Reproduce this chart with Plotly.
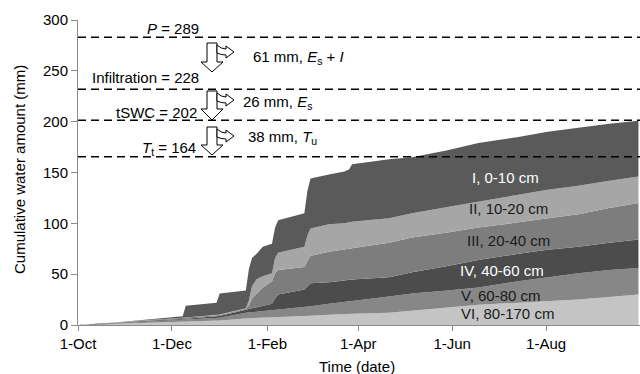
import numpy as np
import plotly.graph_objects as go

# ---- data (days after 1-Oct-2010, cumulative tops of each layer, mm) ----
days = [0, 15, 31, 46, 61, 68, 70, 90, 92, 109, 111, 113, 116, 120, 126, 128, 130,
        147, 149, 151, 163, 173, 176, 178, 202, 217, 240, 260, 286, 305, 325, 345, 364]
top_VI = [0, 0.5, 1.5, 2.3, 3.0, 3.3, 3.4, 4.4, 4.5, 6.5, 6.6, 6.7, 6.9, 7.2, 7.6, 7.7, 7.8,
          9.0, 9.1, 9.2, 10, 10.8, 11, 11.1, 12, 14, 17, 20, 22, 23.5, 25, 27.5, 30]
top_V = [0, 0.8, 2.2, 3.5, 4.6, 5.0, 5.1, 7.0, 7.2, 12, 12.3, 12.6, 13, 13.6, 14.4, 14.6, 14.8,
         17.8, 18, 18.5, 21, 23, 23.5, 23.7, 28, 31, 34, 37, 43, 47, 51, 54, 56]
top_IV = [0, 1.0, 2.7, 4.2, 5.5, 6.0, 6.1, 8.6, 8.8, 15, 16, 16.5, 17.5, 19, 21, 26, 30,
          35, 38, 41, 42, 44, 44.5, 44.8, 47, 52, 58, 64, 70, 74, 77, 81, 84]
top_III = [0, 1.1, 3.0, 4.7, 6.2, 6.8, 6.9, 9.6, 9.8, 16, 19, 26, 31, 37, 43, 51, 54,
           57, 63, 68, 72, 74, 75, 75.5, 81, 86, 91, 96, 101, 105, 109, 115, 120]
top_II = [0, 1.2, 3.2, 5.0, 6.6, 7.2, 7.3, 10.2, 10.4, 16.5, 24, 38, 45, 48, 51, 66, 71,
          77, 88, 95, 99, 100, 101, 101.5, 105, 110, 116, 121, 128, 133, 137, 142, 146]
top_I = [0, 1.3, 3.5, 5.6, 7.6, 8.5, 19, 22, 31, 34, 55, 66, 70, 77, 80, 96, 103,
         110, 132, 144, 148, 151, 153, 158, 163, 165, 172, 179, 185, 190, 194, 198, 201]

layer_names = ["VI, 80-170 cm", "V, 60-80 cm", "IV, 40-60 cm",
               "III, 20-40 cm", "II, 10-20 cm", "I, 0-10 cm"]
layer_tops = [top_VI, top_V, top_IV, top_III, top_II, top_I]
layer_colors = ["#c4c4c4", "#878787", "#4c4c4c", "#7d7d7d", "#a6a6a6", "#5a5a5a"]

line_levels = [283, 232, 201.5, 165.5]

tick_dates = ["2010-10-01", "2010-12-01", "2011-02-01", "2011-04-01",
              "2011-06-01", "2011-08-01", "2011-10-01"]
tick_text = ["1-Oct", "1-Dec", "1-Feb", "1-Apr", "1-Jun", "1-Aug", ""]

dates = [str(np.datetime64("2010-10-01") + int(d)) for d in days]

FONT = "Liberation Sans, Arial, sans-serif"

fig = go.Figure()
for i, (name, tops, col) in enumerate(zip(layer_names, layer_tops, layer_colors)):
    fig.add_trace(go.Scatter(
        x=dates, y=tops, name=name, mode="lines",
        line=dict(width=0, color=col), fillcolor=col,
        fill="tozeroy" if i == 0 else "tonexty",
        hoverinfo="skip", showlegend=False))

# plot area in pixels
L, R, T, B = 78, 640, 20, 325


def px(x):
    return (x - L) / (R - L)


def py(y):
    return (B - y) / (B - T)


def pt(x, y):
    return f"{px(x):.5f},{py(y):.5f}"


shapes = []
for lv in line_levels:
    shapes.append(dict(type="line", xref="paper", yref="y", x0=0, x1=1, y0=lv, y1=lv,
                       line=dict(color="black", width=1.5, dash="8px,5px"), layer="above"))

# hollow arrows (top, head start, tip) in pixels
arrows = [(43, 62, 72), (91, 109, 120), (127, 145, 155)]
cx = 212
for (yt, yh, ytip) in arrows:
    main = ("M" + pt(cx - 5, yt) + " L" + pt(cx + 5, yt) + " L" + pt(cx + 5, yh) +
            " L" + pt(cx + 11, yh) + " L" + pt(cx, ytip) + " L" + pt(cx - 11, yh) +
            " L" + pt(cx - 5, yh) + " Z")
    shapes.append(dict(type="path", xref="paper", yref="paper", path=main,
                       fillcolor="white", line=dict(color="black", width=1), layer="above"))
    s0 = yt + 2
    side = ("M" + pt(cx + 5, s0) + " Q" + pt(cx + 9, s0 + 4) + " " + pt(cx + 14, s0 + 4) +
            " L" + pt(cx + 14, s0 + 1) + " L" + pt(cx + 22, s0 + 7) + " L" + pt(cx + 14, s0 + 13) +
            " L" + pt(cx + 14, s0 + 10) + " Q" + pt(cx + 9, s0 + 10) + " " + pt(cx + 5, s0 + 8) + " Z")
    shapes.append(dict(type="path", xref="paper", yref="paper", path=side,
                       fillcolor="white", line=dict(color="black", width=1), layer="above"))

ann = []


def add_text(text, x, y, xanchor="center", color="black", size=15, angle=0):
    ann.append(dict(text=text, xref="paper", yref="paper", x=px(x), y=py(y),
                    xanchor=xanchor, yanchor="middle", showarrow=False, textangle=angle,
                    font=dict(family=FONT, size=size, color=color)))


add_text("<i>P</i> = 289", 173, 28)
add_text("61 mm, <i>E</i><sub>s</sub> + <i>I</i>", 251, 57, xanchor="left")
add_text("Infiltration = 228", 201, 77, xanchor="right")
add_text("26 mm, <i>E</i><sub>s</sub>", 241, 102, xanchor="left")
add_text("tSWC = 202", 199, 112, xanchor="right")
add_text("38 mm, <i>T</i><sub>u</sub>", 246, 137, xanchor="left")
add_text("<i>T</i><sub>t</sub> = 164", 198, 148, xanchor="right")

label_pos = [(507, 313, "#1a1a1a"), (501, 295, "#1a1a1a"), (502, 270, "white"),
             (508, 240, "#1a1a1a"), (508, 208, "#1a1a1a"), (505, 177, "white")]
for name, (lx, ly, lc) in zip(layer_names, label_pos):
    add_text(name, lx, ly, color=lc)

# axis titles
add_text("Cumulative water amount (mm)", 19, 170, angle=-90)
add_text("Time (date)", 357, 366)

fig.update_layout(
    width=640, height=374,
    margin=dict(l=L, r=640 - R, t=T, b=374 - B, autoexpand=False),
    paper_bgcolor="white", plot_bgcolor="white",
    font=dict(family=FONT, size=15, color="black"),
    shapes=shapes, annotations=ann,
    xaxis=dict(type="date", range=["2010-10-01", "2011-10-01"], automargin=False,
               tickmode="array", tickvals=tick_dates, ticktext=tick_text,
               ticks="outside", ticklen=5, tickcolor="#8a8a8a",
               tickfont=dict(family=FONT, size=15, color="black"),
               showline=True, linecolor="#8a8a8a", linewidth=1,
               showgrid=False, zeroline=False),
    yaxis=dict(range=[0, 300], tickvals=[0, 50, 100, 150, 200, 250, 300], automargin=False,
               ticks="outside", ticklen=6, tickcolor="#8a8a8a",
               tickfont=dict(family=FONT, size=15, color="black"),
               showline=True, linecolor="#8a8a8a", linewidth=1,
               showgrid=False, zeroline=False),
)

fig.write_html("out.html", config={"displayModeBar": False},
               post_script="document.body.style.margin='0px';document.body.style.padding='0px';")
